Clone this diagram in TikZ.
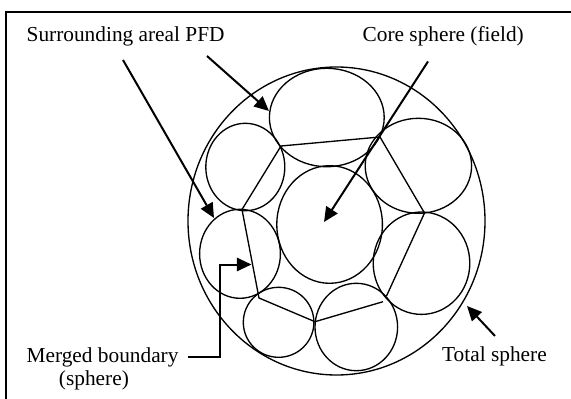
\documentclass[tikz,border=0pt]{standalone}
\usepackage{fontspec}
\setmainfont{Liberation Serif}
\usetikzlibrary{arrows.meta}

\tikzset{>={Triangle[length=11pt,width=10pt]}}
\tikzset{txt/.style={anchor=base west,inner sep=0pt,font=\fontsize{16}{19}\selectfont}}
\tikzset{pointer/.style={->,line width=1.5pt}}

\begin{document}
\begin{tikzpicture}[x=0.75pt,y=-0.75pt,line width=1pt]

\useasboundingbox (0,0) rectangle (571,399);
\draw[line width=1.2pt] (590,12) -- (6,12) -- (6,420);

% spheres
\coordinate (total) at (336.5,221);
\coordinate (top) at (326.8,117.5);
\coordinate (upleft) at (245.3,167);
\coordinate (upright) at (418.4,165.8);
\coordinate (core) at (329.6,224.5);
\coordinate (left) at (240,253.8);
\coordinate (right) at (421.5,263.2);
\coordinate (botleft) at (278.6,322.3);
\coordinate (botright) at (356.3,327);

\draw (total) ellipse [x radius=148.5, y radius=154];
\draw (top) ellipse [x radius=57.4, y radius=49.2];
\draw (upleft) ellipse [x radius=39.5, y radius=43.7];
\draw (upright) ellipse [x radius=53.2, y radius=47.5];
\draw (core) ellipse [x radius=52.8, y radius=58.8];
\draw (left) ellipse [x radius=40.4, y radius=44.5];
\draw (right) ellipse [x radius=48.3, y radius=51.2];
\draw (botleft) ellipse [x radius=35.3, y radius=35];
\draw (botright) ellipse [x radius=41.3, y radius=43.7];

% merged boundary
\coordinate (p1) at (281,146);
\coordinate (p2) at (380,137);
\coordinate (p3) at (242,209.5);
\coordinate (p4) at (259,298);
\coordinate (p5) at (315,321.7);
\coordinate (p6) at (383,301.7);
\coordinate (p7) at (386.5,296);
\coordinate (p8) at (424.5,213);

\draw (p2) -- (p1) -- (p3) -- (p4) -- (p5) -- (p6);
\draw (p7) -- (p8) -- (p2);

% labels
\node[txt] (pfd) at (26,42) {Surrounding areal PFD};
\node[txt] (field) at (362,42) {Core sphere (field)};
\node[txt] (whole) at (441.5,361) {Total sphere};
\node[txt] (merged) at (26,362) {Merged boundary};
\node[txt] (mergedsub) at (58.3,385) {(sphere)};

\coordinate (s1) at (123,60);
\coordinate (t1) at (214,218);
\coordinate (s2) at (207,56);
\coordinate (t2) at (269,111);
\coordinate (s3) at (428,61.5);
\coordinate (t3) at (324,222);
\coordinate (s4) at (495,336);
\coordinate (t4) at (467,306);
\coordinate (s5) at (187.5,356.5);
\coordinate (t5) at (251.5,264.5);

\draw[pointer] (s1) -- (t1);
\draw[pointer] (s2) -- (t2);
\draw[pointer] (s3) -- (t3);
\draw[pointer] (s4) -- (t4);
\draw[pointer] (s5) -| (219.5,264.5) -- (t5);

\end{tikzpicture}
\end{document}
